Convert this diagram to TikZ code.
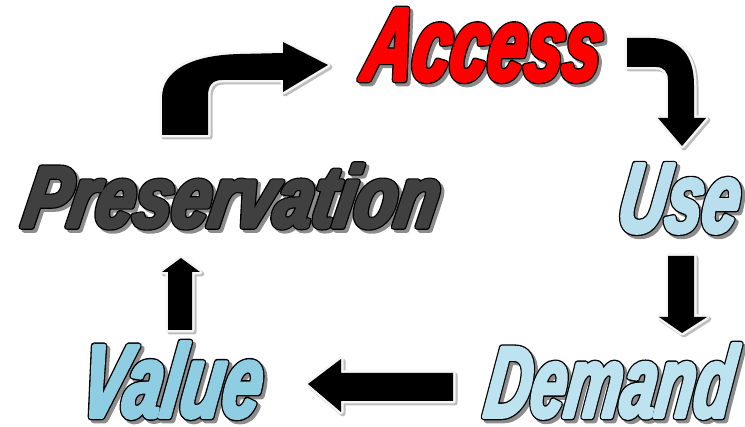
\documentclass[tikz,border=0pt]{standalone}
\usepackage{fontspec}
\usepackage{graphicx}
\setmainfont{Liberation Sans}
\newfontfamily\wafont{Liberation Sans}[BoldItalicFeatures={FakeSlant=0.16,FakeStretch=0.7}]
\definecolor{accessred}{HTML}{FF0000}
\definecolor{presgray}{HTML}{404040}
\definecolor{useblue}{HTML}{B9DFEE}
\definecolor{demblue}{HTML}{BDE3F1}
\definecolor{valblue}{HTML}{8ECDE2}
\definecolor{shadowgray}{HTML}{8C8C8C}
\definecolor{arrowshadow}{HTML}{BEBEBE}
% #1 width, #2 height, #3 colour, #4 stroke colour operator, #5 stroke width, #6 text
\newcommand\wordart[6]{\resizebox{#1pt}{#2pt}{\fontsize{100}{100}\wafont\bfseries\itshape\color{#3}\special{pdf:literal direct #4 #5 w 1 j 2 Tr}#6\special{pdf:literal direct 0 Tr}}}
\tikzset{
  wordnode/.style={inner sep=0pt, outer sep=0pt},
  blockarrow/.style={fill=black,
    preaction={transform canvas={shift={(2pt,-2pt)}}, draw=arrowshadow, fill=arrowshadow, line width=5pt, line join=round},
    preaction={draw=white!96!black, line width=5pt, line join=round}},
}
\begin{document}
\begin{tikzpicture}[x=1pt,y=-1pt]
\useasboundingbox[fill=white] (0,0) rectangle (745,427);

% word shadows
\node[wordnode] (accessS) at (482,48) {\wordart{237}{71}{shadowgray}{}{6.5}{Access}};
\node[wordnode] (useS) at (678.5,201.5) {\wordart{120}{68}{shadowgray}{}{6.5}{Use}};
\node[wordnode] (presS) at (230.5,199) {\wordart{414}{63}{shadowgray}{}{6.5}{Preservation}};
\node[wordnode] (valueS) at (170.5,383) {\wordart{180}{75}{shadowgray}{}{6.5}{Value}};
\node[wordnode] (demandS) at (609,384) {\wordart{247}{73}{shadowgray}{}{6.5}{Demand}};
% black outlines
\node[wordnode] (accessO) at (479,45) {\wordart{237}{71}{black}{}{6.5}{Access}};
\node[wordnode] (useO) at (675.5,198.5) {\wordart{120}{68}{black}{}{6.5}{Use}};
\node[wordnode] (presO) at (227.5,196) {\wordart{414}{63}{black}{}{6.5}{Preservation}};
\node[wordnode] (valueO) at (167.5,380) {\wordart{180}{75}{black}{}{6.5}{Value}};
\node[wordnode] (demandO) at (606,381) {\wordart{247}{73}{black}{}{6.5}{Demand}};
% fills
\node[wordnode] (access) at (479,45) {\wordart{237}{71}{accessred}{}{3.8}{Access}};
\node[wordnode] (use) at (675.5,198.5) {\wordart{120}{68}{useblue}{}{3.8}{Use}};
\node[wordnode] (pres) at (227.5,196) {\wordart{414}{63}{presgray}{}{3.8}{Preservation}};
\node[wordnode] (value) at (167.5,380) {\wordart{180}{75}{valblue}{}{3.8}{Value}};
\node[wordnode] (demand) at (606,381) {\wordart{247}{73}{demblue}{}{3.8}{Demand}};

% Preservation -> Access (curved)
\path[blockarrow] (162,135) -- (162,98) .. controls (162,70) and (192,55) .. (240,54) -- (283,53)
  -- (283,42) -- (328,65) -- (283,92) -- (283,80) -- (222,80)
  .. controls (212,80) and (208,86) .. (208,96) -- (208,135) -- cycle;
% Access -> Use (curved)
\path[blockarrow] (627,38) -- (650,38) .. controls (680,38) and (694,55) .. (694,85) -- (694,118)
  -- (706,118) -- (682,146) -- (658,118) -- (668,118) -- (668,80)
  .. controls (668,72) and (664,67) .. (656,67) -- (627,67) -- cycle;
% Use -> Demand
\path[blockarrow] (668,256) -- (694,256) -- (694,317) -- (707,317) -- (682,333) -- (659,317) -- (668,317) -- cycle;
% Demand -> Value
\path[blockarrow] (453,373) -- (453,401) -- (341,401) -- (341,412) -- (308,384) -- (341,359) -- (341,373) -- cycle;
% Value -> Preservation
\path[blockarrow] (168,330) -- (192,330) -- (192,272) -- (200,272) -- (181,258) -- (162,272) -- (168,272) -- cycle;
\end{tikzpicture}
\end{document}
